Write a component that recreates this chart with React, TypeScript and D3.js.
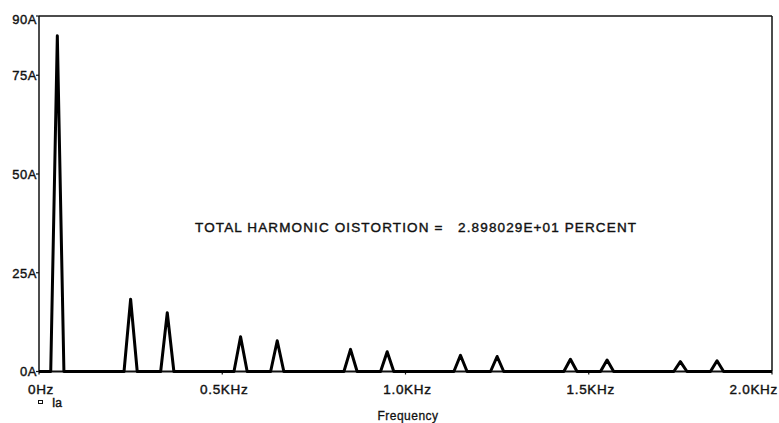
import React from "react";
import * as d3 from "d3";

// Harmonic spectrum (Hz, A)
const harmonicFreqs = [50, 250, 350, 550, 650, 850, 950, 1150, 1250, 1450, 1550, 1750, 1850];
const harmonicAmps = [85, 18.3, 14.9, 8.8, 7.8, 5.6, 5.0, 4.1, 3.8, 3.1, 2.9, 2.5, 2.7];
const yTicks = [0, 25, 50, 75, 90];
const yTickLabels = ["0A", "25A", "50A", "75A", "90A"];
const xTicks = [0, 500, 1000, 1500, 2000];
const xTickLabels = ["0Hz", "0.5KHz", "1.0KHz", "1.5KHz", "2.0KHz"];
const thdText = "TOTAL HARMONIC OISTORTION =   2.898029E+01 PERCENT";
const xTitle = "Frequency";
const traceName = "Ia";

const W = 779;
const H = 423;
const L = 39, R = 772, T = 16, B = 371.5;
const HALF_BIN = 18;

export default function App() {
  const x = d3.scaleLinear().domain([0, 2000]).range([L, R]);
  const y = d3.scaleLinear().domain([0, 90]).range([B, T]);

  const pts: [number, number][] = [[0, 0]];
  harmonicFreqs.forEach((f, i) => {
    pts.push([f - HALF_BIN, 0]);
    pts.push([f, harmonicAmps[i]]);
    pts.push([f + HALF_BIN, 0]);
  });
  pts.push([2000, 0]);
  const line = d3
    .line<[number, number]>()
    .x((d) => x(d[0]))
    .y((d) => y(d[1]));

  const font = "'Liberation Sans', Arial, sans-serif";
  const ink = { fill: "#111", stroke: "#111", strokeWidth: 0.4 };

  return (
    <svg
      width={W}
      height={H}
      style={{ position: "absolute", left: 0, top: 0, background: "#fff" }}
      fontFamily={font}
    >
      <rect x={0} y={0} width={W} height={H} fill="#fff" />
      {/* frame */}
      <line x1={L} x2={R} y1={T} y2={T} stroke="#111" strokeWidth={1.5} />
      <line x1={R} x2={R} y1={T} y2={B} stroke="#111" strokeWidth={1.5} />
      <line x1={L} x2={L} y1={T} y2={B} stroke="#111" strokeWidth={1.5} />
      <line x1={L} x2={R} y1={B} y2={B} stroke="#111" strokeWidth={1.8} />

      {/* y ticks */}
      {yTicks.map((v, i) => (
        <g key={"y" + v}>
          <line x1={L - 3} x2={L} y1={y(v)} y2={y(v)} stroke="#111" strokeWidth={1.2} />
          <text
            x={L - 2}
            y={v === 90 ? y(v) + 7.5 : y(v) + 4.8}
            textAnchor="end"
            fontSize={13}
            letterSpacing={0.5}
            {...ink}
          >
            {yTickLabels[i]}
          </text>
        </g>
      ))}

      {/* x ticks */}
      {xTicks.map((v, i) => {
        const last = i === xTicks.length - 1;
        return (
          <g key={"x" + v}>
            <line x1={x(v)} x2={x(v)} y1={B} y2={B + 3} stroke="#111" strokeWidth={1.2} />
            <text
              x={last ? 778 : x(v) + 2}
              y={393.5}
              textAnchor={last ? "end" : "middle"}
              fontSize={13.5}
              letterSpacing={0.7}
              {...ink}
            >
              {xTickLabels[i]}
            </text>
          </g>
        );
      })}

      {/* spectrum */}
      <path
        d={line(pts) || ""}
        fill="none"
        stroke="#000"
        strokeWidth={3}
        strokeLinejoin="round"
      />

      {/* THD annotation */}
      <text
        x={195}
        y={232}
        fontSize={13.5}
        textLength={441}
        lengthAdjust="spacing"
        style={{ whiteSpace: "pre" }}
        {...ink}
      >
        {thdText}
      </text>

      {/* legend */}
      <rect x={38.5} y={400.5} width={4} height={3} fill="none" stroke="#111" strokeWidth={1} />
      <text x={52} y={407} fontSize={12} {...ink}>
        {traceName}
      </text>

      {/* x title */}
      <text x={408} y={419.5} textAnchor="middle" fontSize={12} letterSpacing={0.5} {...ink} strokeWidth={0.3}>
        {xTitle}
      </text>
    </svg>
  );
}
